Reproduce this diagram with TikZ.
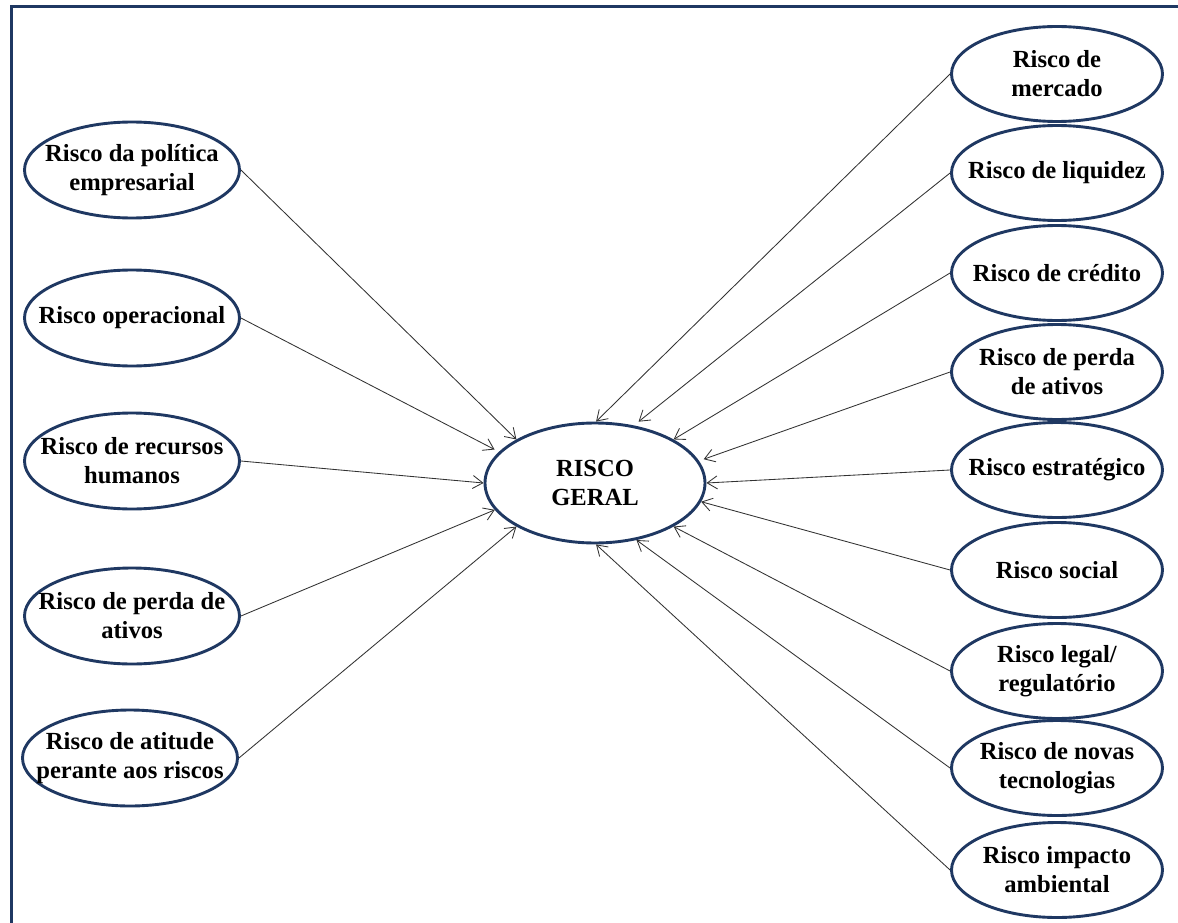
\documentclass[tikz,border=0pt]{standalone}
\usepackage{fontspec}
\setmainfont{Liberation Serif}
\usetikzlibrary{shapes.geometric,arrows.meta}

\definecolor{navy}{RGB}{31,56,98}
\definecolor{linkgray}{RGB}{50,50,50}

\tikzset{
  frame/.style={draw=navy, line width=3pt},
  riskbox/.style={ellipse, draw=navy, line width=2.9pt, fill=white,
    inner xsep=-40pt, inner ysep=0pt, align=center,
    font=\fontsize{24.6}{29}\selectfont\bfseries},
  leftbox/.style={riskbox, minimum width=215pt, minimum height=96pt},
  rightbox/.style={riskbox, minimum width=211pt, minimum height=95pt},
  hubbox/.style={riskbox, minimum width=220pt, minimum height=120pt},
  link/.style={draw=linkgray, line width=0.85pt,
    -{Straight Barb[length=10pt,width=13pt]}}
}

\begin{document}
\begin{tikzpicture}[x=1pt,y=-1pt]
\useasboundingbox (0,0) rectangle (1178,923);
\fill[white] (0,0) rectangle (1178,923);
\clip (0,0) rectangle (1178,923);
\draw[frame] (11.5,6.5) rectangle (1200,950);

% central node
\node[hubbox] (C) at (595,483) {RISCO\\GERAL};

% left column
\node[leftbox] (L1) at (132,170) {Risco da política\\empresarial};
\node[leftbox] (L2) at (132,318) {Risco operacional};
\node[leftbox] (L3) at (132,461) {Risco de recursos\\humanos};
\node[leftbox] (L4) at (132,616) {Risco de perda de\\ativos};
\node[leftbox] (L5) at (130,758) {Risco de atitude\\perante aos riscos};

% right column
\node[rightbox] (R1) at (1057,74)  {Risco de\\mercado};
\node[rightbox] (R2) at (1057,173) {Risco de liquidez};
\node[rightbox] (R3) at (1057,273) {Risco de crédito};
\node[rightbox] (R4) at (1057,372) {Risco de perda\\de ativos};
\node[rightbox] (R5) at (1057,470) {Risco estratégico};
\node[rightbox] (R6) at (1057,570) {Risco social};
\node[rightbox] (R7) at (1057,671) {Risco legal/\\regulatório};
\node[rightbox] (R8) at (1057,768) {Risco de novas\\tecnologias};
\node[rightbox] (R9) at (1057,870) {Risco impacto\\ambiental};

% connectors into the central node
\draw[link] (L1.east) -- (C.151);
\draw[link, shorten >=5pt] (L2.east) -- (C.162);
\draw[link] (L3.east) -- (C.180);
\draw[link] (L4.east) -- (C.195);
\draw[link] (L5.east) -- (C.209);

\draw[link] (R1.west) -- (C.89);
\draw[link, shorten >=6pt] (R2.west) -- (C.56);
\draw[link] (R3.west) -- (C.29);
\draw[link, shorten >=5pt] (R4.west) -- (C.12);
\draw[link] (R5.west) -- (C.0);
\draw[link] (R6.west) -- (C.-10);
\draw[link] (R7.west) -- (C.-29);
\draw[link] (R8.west) -- (C.-54);
\draw[link] (R9.west) -- (C.-89);
\end{tikzpicture}
\end{document}
